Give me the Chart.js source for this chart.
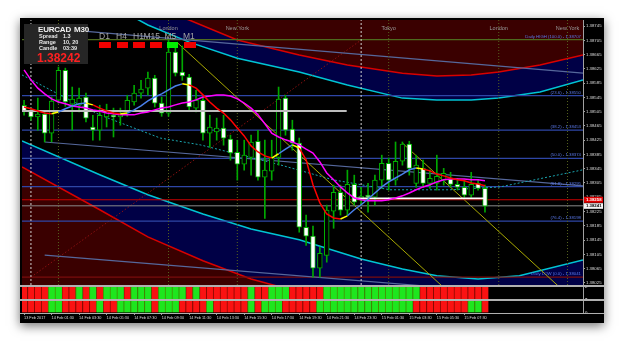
<!DOCTYPE html>
<html><head><meta charset="utf-8">
<script src="https://cdn.jsdelivr.net/npm/chart.js@4.4.1/dist/chart.umd.min.js"></script>
<style>
html,body{margin:0;padding:0;background:#ffffff;}
body{width:625px;height:346px;position:relative;overflow:hidden;font-family:"Liberation Sans",Arial,sans-serif;}
#win{position:absolute;left:20px;top:18px;width:584px;height:305px;background:#000;box-shadow:0 3px 10px rgba(0,0,0,0.55);overflow:hidden;}
#win canvas{position:absolute;left:0;}
.sep{position:absolute;left:0;width:584px;background:#b0b0b0;z-index:5;}
.t{position:absolute;white-space:nowrap;z-index:10;line-height:1;}
.box{position:absolute;z-index:10;}
</style></head>
<body>
<div id="win">
  <canvas id="main" width="584" height="268" style="top:0"></canvas>
  <canvas id="pan" width="584" height="39" style="top:266px"></canvas>
  <div class="sep" style="top:267px;height:2px"></div>
  <div class="sep" style="top:281px;height:2px"></div>
  <div class="sep" style="top:295px;height:1px"></div>
</div>
<!-- info box -->
<div class="box" style="left:24px;top:24px;width:64px;height:40px;background:#262626;"></div>
<div class="t" style="left:38px;top:26px;font-weight:bold;font-size:8px;color:#f0f0f0;letter-spacing:-0.2px">EURCAD</div>
<div class="t" style="left:74px;top:26px;font-weight:bold;font-size:8px;color:#f0f0f0;letter-spacing:-0.2px">M30</div>
<div class="t" style="left:39px;top:33.5px;font-weight:bold;font-size:5.5px;color:#e6e6e6">Spread</div>
<div class="t" style="left:63px;top:33.5px;font-weight:bold;font-size:5.5px;color:#e6e6e6">1.3</div>
<div class="t" style="left:39px;top:39.5px;font-weight:bold;font-size:5.5px;color:#e6e6e6">Range</div>
<div class="t" style="left:63px;top:39.5px;font-weight:bold;font-size:5.5px;color:#e6e6e6">10, 20</div>
<div class="t" style="left:39px;top:45.5px;font-weight:bold;font-size:5.5px;color:#e6e6e6">Candle</div>
<div class="t" style="left:63px;top:45.5px;font-weight:bold;font-size:5.5px;color:#e6e6e6">03:39</div>
<div class="t" style="left:37px;top:51.5px;font-weight:bold;font-size:12px;color:#ff2020">1.38242</div>
<!-- timeframe strip -->
<div class="t" style="left:99px;top:32px;font-size:8.5px;color:#a4a4a4">D1</div>
<div class="t" style="left:116px;top:32px;font-size:8.5px;color:#a4a4a4">H4</div>
<div class="t" style="left:133px;top:32px;font-size:8.5px;color:#a4a4a4">H1</div>
<div class="t" style="left:143.5px;top:32px;font-size:8.5px;color:#a4a4a4">M15</div>
<div class="t" style="left:164.5px;top:32px;font-size:8.5px;color:#a4a4a4">M5</div>
<div class="t" style="left:183px;top:32px;font-size:8.5px;color:#a4a4a4">M1</div>
<div class="box" style="left:99px;top:42px;width:11.5px;height:5.5px;background:#f00000"></div>
<div class="box" style="left:116.5px;top:42px;width:11.5px;height:5.5px;background:#f00000"></div>
<div class="box" style="left:133px;top:42px;width:11.5px;height:5.5px;background:#f00000"></div>
<div class="box" style="left:150px;top:42px;width:11.5px;height:5.5px;background:#f00000"></div>
<div class="box" style="left:166.5px;top:42px;width:11.5px;height:5.5px;background:#00f000"></div>
<div class="box" style="left:184px;top:42px;width:11.5px;height:5.5px;background:#f00000"></div>

<script>
// ---------------- DATA ----------------
const tickLabels = ["13 Feb 2017","14 Feb 01:30","14 Feb 03:30","14 Feb 05:30","14 Feb 07:30","14 Feb 09:30","14 Feb 11:30","14 Feb 13:30","14 Feb 15:30","14 Feb 17:30","14 Feb 19:30","14 Feb 21:30","14 Feb 23:30","15 Feb 01:30","15 Feb 03:30","15 Feb 05:30","15 Feb 07:30"];
const priceTicks = [1.38025,1.38065,1.38105,1.38145,1.38185,1.38225,1.38265,1.38305,1.38345,1.38385,1.38425,1.38465,1.38505,1.38545,1.38585,1.38625,1.38665,1.38705,1.38745];

const openP = [1.38523,1.38506,1.38490,1.38498,1.38445,1.38537,1.38621,1.38526,1.38523,1.38546,
 1.38462,1.38453,1.38490,1.38495,1.38490,1.38504,1.38532,1.38557,1.38571,1.38599,
 1.38529,1.38501,1.38672,1.38616,1.38602,1.38515,1.38537,1.38445,1.38448,1.38459,
 1.38428,1.38391,1.38358,1.38377,1.38422,1.38321,1.38338,1.38377,1.38543,1.38456,
 1.38417,1.38181,1.38156,1.38066,1.38102,1.38226,1.38279,1.38229,1.38301,1.38257,
 1.38271,1.38265,1.38313,1.38360,1.38313,1.38366,1.38414,1.38304,1.38346,1.38304,
 1.38304,1.38313,1.38316,1.38301,1.38293,1.38271,1.38304,1.38290];
const highP = [1.38537,1.38515,1.38543,1.38504,1.38546,1.38630,1.38627,1.38574,1.38571,1.38557,
 1.38495,1.38523,1.38526,1.38515,1.38515,1.38551,1.38579,1.38593,1.38616,1.38607,
 1.38546,1.38706,1.38683,1.38689,1.38610,1.38565,1.38546,1.38495,1.38487,1.38495,
 1.38439,1.38425,1.38425,1.38439,1.38453,1.38425,1.38425,1.38574,1.38551,1.38481,
 1.38431,1.38215,1.38184,1.38125,1.38243,1.38299,1.38299,1.38341,1.38327,1.38293,
 1.38304,1.38327,1.38383,1.38375,1.38420,1.38420,1.38422,1.38383,1.38369,1.38341,
 1.38383,1.38346,1.38335,1.38318,1.38313,1.38335,1.38313,1.38299];
const lowP = [1.38495,1.38481,1.38453,1.38420,1.38420,1.38529,1.38520,1.38453,1.38504,1.38476,
 1.38425,1.38425,1.38462,1.38434,1.38467,1.38492,1.38523,1.38543,1.38551,1.38518,
 1.38492,1.38492,1.38605,1.38593,1.38509,1.38504,1.38425,1.38405,1.38425,1.38411,
 1.38369,1.38313,1.38341,1.38327,1.38313,1.38206,1.38313,1.38355,1.38439,1.38397,
 1.38167,1.38130,1.38041,1.38041,1.38083,1.38178,1.38215,1.38215,1.38243,1.38243,
 1.38223,1.38243,1.38290,1.38285,1.38299,1.38355,1.38327,1.38293,1.38293,1.38290,
 1.38285,1.38299,1.38293,1.38285,1.38265,1.38265,1.38285,1.38223];
const closeP = [1.38504,1.38490,1.38498,1.38445,1.38535,1.38621,1.38532,1.38540,1.38543,1.38487,
 1.38453,1.38495,1.38509,1.38490,1.38501,1.38537,1.38557,1.38568,1.38599,1.38529,
 1.38501,1.38672,1.38613,1.38605,1.38518,1.38537,1.38445,1.38462,1.38459,1.38431,
 1.38389,1.38358,1.38383,1.38420,1.38321,1.38341,1.38377,1.38540,1.38453,1.38417,
 1.38181,1.38156,1.38066,1.38108,1.38229,1.38279,1.38229,1.38301,1.38251,1.38268,
 1.38265,1.38313,1.38360,1.38313,1.38366,1.38414,1.38346,1.38355,1.38304,1.38318,
 1.38324,1.38332,1.38301,1.38293,1.38271,1.38301,1.38290,1.38240];

const slowMA = [1.38622,1.38594,1.38571,1.38555,1.38541,1.38532,1.38527,1.38521,1.38518,1.38515,
 1.38510,1.38507,1.38501,1.38499,1.38496,1.38496,1.38496,1.38501,1.38504,1.38510,
 1.38515,1.38518,1.38524,1.38529,1.38532,1.38538,1.38546,1.38549,1.38552,1.38552,
 1.38549,1.38541,1.38529,1.38515,1.38496,1.38471,1.38445,1.38434,1.38426,1.38420,
 1.38412,1.38400,1.38389,1.38364,1.38333,1.38314,1.38294,1.38277,1.38263,1.38258,
 1.38255,1.38255,1.38255,1.38258,1.38263,1.38269,1.38277,1.38286,1.38294,1.38300,
 1.38308,1.38314,1.38316,1.38316,1.38316,1.38314,1.38314,1.38311];
const fastMA = [1.38518,1.38513,1.38507,1.38501,1.38499,1.38504,1.38513,1.38521,1.38527,1.38529,
 1.38524,1.38515,1.38507,1.38501,1.38499,1.38501,1.38510,1.38521,1.38535,1.38546,
 1.38555,1.38566,1.38577,1.38583,1.38580,1.38571,1.38552,1.38532,1.38515,1.38501,
 1.38482,1.38459,1.38437,1.38409,1.38392,1.38381,1.38375,1.38387,1.38400,1.38412,
 1.38403,1.38370,1.38300,1.38249,1.38218,1.38207,1.38204,1.38213,1.38230,1.38244,
 1.38260,1.38277,1.38294,1.38308,1.38319,1.38330,1.38342,1.38347,1.38344,1.38339,
 1.38330,1.38325,1.38319,1.38314,1.38311,1.38305,1.38302,1.38297];

// polynomial regression channel curves (bar index -> price)
const upperBars = [14,18,24,31,40,47,55,60,65,69,75,81.25];
const upperRed  = [1.38846,1.38804,1.38762,1.38706,1.38664,1.38636,1.38613,1.38605,1.38608,1.38616,1.38636,1.38664];
const upperCyan = [1.38790,1.38748,1.38700,1.38655,1.38616,1.38580,1.38543,1.38538,1.38538,1.38543,1.38560,1.38594];
const lowerBars = [-0.3,11,18,26,33,40,49,55,60,66,72,81.25];
const lowerCyan = [1.38423,1.38328,1.38272,1.38218,1.38176,1.38146,1.38092,1.38064,1.38045,1.38036,1.38045,1.38089];
const lowerRed  = [1.38350,1.38230,1.38154,1.38087,1.38036,1.37999,1.37969,1.37955,1.37949,1.37949,1.37958,1.37977];
const midBars   = [-0.3,5.2,11,19.8,25.6,37.2,44.9,53.2,61.9,69.2,81.25];
const midCurve  = [1.38608,1.38552,1.38496,1.38431,1.38412,1.38356,1.38314,1.38286,1.38286,1.38294,1.38342];

// linear regression channel (start bar, end bar)
const regBars  = [3, 81.25];
const regUpper = [1.38740, 1.38613];
const regMid   = [1.38420, 1.38297];
const regLower = [1.38103, 1.37980];

// fibonacci levels of the previous day
const fibLevels = [1.38707,1.38550,1.38453,1.38374,1.38295,1.38198,1.38041];
const fibNames  = ["Daily HIGH (100.0)","(23.6)","(38.2)","(50.0)","(61.8)","(76.4)","Daily LOW (0.0)"];

// trend / range lines
const dayRangeBars = [1, 49],     dayRangePrices = [1.38041, 1.38706];
const trendABars   = [22.3, 60.6], trendAPrices   = [1.38698, 1.38019];
const trendBBars   = [55, 77.6],   trendBPrices   = [1.38417, 1.38017];
const prevCloseBars = [-0.3, 46.9], prevClose = 1.38507;
const supportBars   = [48, 67],     supportLevel = 1.38262;
const askPrice = 1.38258, bidPrice = 1.38241;

// sessions
const sessionBars  = [5, 21, 31, 53, 69, 79];
const sessionNames = ["Tokyo","London","New York","Tokyo","London","New York"];
const daySeparatorBars = [1, 49];

// indicator panels (+2 bullish, -2 bearish)
const panel1 = [-2,-2,-2,-2, 2,2,-2,-2, 2,-2, 2,-2, 2,2,2,-2, 2,2,2,-2, 2,2,2,2,-2, 2,
 -2,-2,-2,-2,-2,-2,-2, 2,-2,-2, 2,2,2, -2,-2,-2,-2,-2,
 2,2,2,2,2,2,2,2,2,2,2,2,2,2, -2,-2,-2,-2,-2,-2,-2,-2,-2,-2];
const panel2 = [-2,-2,-2,-2, 2,2, -2,-2,-2,-2,-2, 2, -2,-2, 2,2,2,2,2, -2, 2,2,2, -2,-2,-2,-2, 2,
 -2,-2,-2,-2,-2, 2, -2, 2,2,2, -2,-2,-2,-2,-2,
 2,2,2,2,2,2,2,2,2,2,2,2,2,2, -2,-2,-2,-2,-2,-2,-2,-2, 2,2, -2];

// ---------------- CHART ----------------
const X_MIN = -0.3, X_MAX = 81.25;
const Y_MIN = 1.38019, Y_MAX = 1.38762;
const FONT = '"Liberation Sans", Arial, sans-serif';
Chart.defaults.font.family = FONT;
Chart.defaults.color = '#dcdcdc';

const pts = (xs, ys) => xs.map((x, k) => ({x, y: ys[k]}));
const seg = (xs, v) => xs.map(x => ({x, y: v}));
function ln(data, color, width, extra) {
  return Object.assign({type: 'line', data, borderColor: color, borderWidth: width, pointRadius: 0,
    fill: false, tension: 0, order: 50}, extra || {});
}
const DARKRED = '#3a0000', NAVY = '#000046';

const datasets = [
  ln(pts(upperBars, upperRed), '#d80000', 1.5, {fill: 'end', backgroundColor: DARKRED, order: 100}),
  ln(pts(upperBars, upperCyan), '#00c4d4', 1.5, {fill: '-1', backgroundColor: NAVY, order: 100}),
  ln(pts(lowerBars, lowerRed), '#d80000', 1.5, {fill: 'start', backgroundColor: DARKRED, order: 100}),
  ln(pts(lowerBars, lowerCyan), '#00c4d4', 1.5, {fill: '-1', backgroundColor: NAVY, order: 100}),
  ln(pts(midBars, midCurve), '#1aa6b0', 1, {borderDash: [2, 2]}),
  ln(pts(regBars, regUpper), '#56689c', 1.2),
  ln(pts(regBars, regMid), '#56689c', 1.2),
  ln(pts(regBars, regLower), '#56689c', 1.2),
];
fibLevels.forEach((v, k) => {
  const c = k === 0 ? '#4e6a1e' : (k === fibLevels.length - 1 ? '#7a0c0c' : '#2e46a6');
  datasets.push(ln(seg([X_MIN, X_MAX], v), c, 1.2));
});
datasets.push(ln(pts(dayRangeBars, dayRangePrices), '#8a1010', 1, {borderDash: [1.5, 2]}));
datasets.push(ln(pts(trendABars, trendAPrices), '#a8a800', 1, {order: 40}));
datasets.push(ln(pts(trendBBars, trendBPrices), '#a8a800', 1, {order: 40}));
sessionBars.forEach(b => datasets.push(ln([{x: b, y: Y_MIN}, {x: b, y: Y_MAX}], '#56621e', 1, {borderDash: [1, 2], order: 45})));
daySeparatorBars.forEach(b => datasets.push(ln([{x: b, y: Y_MIN}, {x: b, y: Y_MAX}], '#d0d0d0', 1, {borderDash: [2, 2], order: 45})));
datasets.push(ln(seg([X_MIN, X_MAX], askPrice), '#c80000', 1, {order: 30}));
datasets.push(ln(seg([X_MIN, X_MAX], bidPrice), '#8a8a8a', 1, {order: 30}));
// candles
datasets.push({type: 'bar', grouped: false, order: 21, barThickness: 1, borderWidth: 0,
  backgroundColor: '#00a800', data: openP.map((o, i) => ({x: i, y: [lowP[i], highP[i]]}))});
datasets.push({type: 'bar', grouped: false, order: 20, barThickness: 4.8, borderWidth: 1, borderSkipped: false,
  borderColor: '#00b400',
  backgroundColor: ctx => closeP[ctx.dataIndex] >= openP[ctx.dataIndex] ? '#000000' : '#ffffff',
  data: openP.map((o, i) => ({x: i, y: [o, closeP[i]]}))});
datasets.push(ln(seg(prevCloseBars, prevClose), '#bdbdbd', 2, {order: 12}));
datasets.push(ln(seg(supportBars, supportLevel), '#ffffff', 1.6, {order: 12}));
datasets.push(ln(slowMA.map((v, i) => ({x: i, y: v})), '#ff00ff', 1.5, {order: 10}));
datasets.push(ln(fastMA.map((v, i) => ({x: i, y: v})), '#ff0000', 1.5, {order: 5,
  segment: {borderColor: c => {
    const i = c.p0DataIndex, a = fastMA[i], b = fastMA[i + 1];
    const dir = Math.sign(b - a);
    const prev = i > 0 ? Math.sign(a - fastMA[i - 1]) : dir;
    if (prev !== dir) return '#ffff00';
    return dir > 0 ? '#4a80ec' : '#ff0000';
  }}}));

const overlay = {
  id: 'overlay',
  afterDatasetsDraw(chart) {
    const {ctx, chartArea, scales: {x, y}} = chart;
    ctx.save();
    ctx.beginPath(); ctx.rect(chartArea.left, chartArea.top, chartArea.width, chartArea.height); ctx.clip();
    ctx.font = '5.5px ' + FONT; ctx.fillStyle = '#9a9a9a'; ctx.textAlign = 'center'; ctx.textBaseline = 'middle';
    sessionBars.forEach((b, k) => ctx.fillText(sessionNames[k], x.getPixelForValue(b), chartArea.top + 8));
    ctx.font = '4.3px ' + FONT; ctx.fillStyle = '#5a78ea'; ctx.textAlign = 'right'; ctx.textBaseline = 'bottom';
    fibLevels.forEach((v, k) => ctx.fillText(fibNames[k] + ' - ' + v.toFixed(5), chartArea.right - 2, y.getPixelForValue(v) - 1));
    ctx.restore();
  },
  afterDraw(chart) {
    const {ctx, scales: {y}} = chart;
    ctx.save();
    ctx.font = 'bold 4.3px ' + FONT; ctx.textBaseline = 'middle'; ctx.textAlign = 'left';
    const ya = y.getPixelForValue(askPrice), yb = y.getPixelForValue(bidPrice);
    ctx.fillStyle = '#e00000'; ctx.fillRect(y.left + 1, ya - 3, 19, 6);
    ctx.fillStyle = '#ffffff'; ctx.fillText(askPrice.toFixed(5), y.left + 3, ya + 0.3);
    ctx.fillStyle = '#f4f4f4'; ctx.fillRect(y.left + 1, yb - 2.6, 19, 5.6);
    ctx.fillStyle = '#000000'; ctx.fillText(bidPrice.toFixed(5), y.left + 3, yb + 0.3);
    ctx.restore();
  }
};

new Chart(document.getElementById('main'), {
  type: 'line',
  data: {datasets},
  options: {
    responsive: false, animation: false, events: [],
    layout: {padding: {left: 2, top: 2, right: 0, bottom: 1}},
    plugins: {legend: {display: false}, tooltip: {enabled: false}},
    scales: {
      x: {type: 'linear', min: X_MIN, max: X_MAX, display: false, offset: false},
      y: {type: 'linear', position: 'right', min: Y_MIN, max: Y_MAX,
        afterBuildTicks: s => { s.ticks = priceTicks.map(v => ({value: v})); },
        afterFit: s => { s.width = 21; s.paddingTop = 0; s.paddingBottom = 0; },
        ticks: {color: '#dedede', font: {size: 4.3}, padding: 1, callback: v => Number(v).toFixed(5)},
        grid: {drawOnChartArea: false, color: '#a0a0a0', tickLength: 2},
        border: {color: '#a0a0a0'}}
    }
  },
  plugins: [overlay]
});

// ---- indicator panels: one chart, two stacked y axes ----
const panelDatasets = [];
[panel1, panel2].forEach((sig, p) => {
  const up = [], dn = [];
  sig.forEach((v, i) => (v > 0 ? up : dn).push({x: i, y: Math.abs(v)}));
  const axis = p === 0 ? 'y1' : 'y2';
  panelDatasets.push({data: up, yAxisID: axis, backgroundColor: '#1ee61e', borderColor: '#4a8a00',
    borderWidth: {left: 1, right: 0, top: 0, bottom: 0}, borderSkipped: false, barThickness: 7, grouped: false});
  panelDatasets.push({data: dn, yAxisID: axis, backgroundColor: '#fa1212', borderColor: '#8a0a00',
    borderWidth: {left: 1, right: 0, top: 0, bottom: 0}, borderSkipped: false, barThickness: 7, grouped: false});
});
const panelY = () => ({type: 'linear', position: 'right', stack: 'ind', stackWeight: 1, min: 0, max: 2, offset: false,
  afterBuildTicks: s => { s.ticks = [{value: 0}, {value: 2}]; },
  afterFit: s => { s.width = 21; s.paddingTop = 0; s.paddingBottom = 0; },
  ticks: {color: '#e6e6e6', font: {size: 4.3}, padding: 2, callback: v => String(v)},
  grid: {drawOnChartArea: false, color: '#a0a0a0', tickLength: 0},
  border: {color: '#a0a0a0'}});

new Chart(document.getElementById('pan'), {
  type: 'bar',
  data: {datasets: panelDatasets},
  options: {
    responsive: false, animation: false, events: [],
    layout: {padding: {left: 2, top: 3, right: 0, bottom: 1}},
    plugins: {legend: {display: false}, tooltip: {enabled: false}},
    scales: {
      x: {type: 'linear', min: X_MIN, max: X_MAX, offset: false,
        afterBuildTicks: s => { s.ticks = tickLabels.map((t, k) => ({value: k * 4})); },
        afterFit: s => { s.height = 9; s.paddingLeft = 0; s.paddingRight = 0; },
        ticks: {color: '#dcdcdc', font: {size: 3.8}, padding: 1, align: 'start', maxRotation: 0, autoSkip: false,
          callback: (v, k) => tickLabels[k]},
        grid: {drawOnChartArea: false, offset: false, color: '#a0a0a0', tickLength: 2},
        border: {display: false}},
      y1: panelY(),
      y2: panelY()
    }
  }
});
</script>
</body></html>
